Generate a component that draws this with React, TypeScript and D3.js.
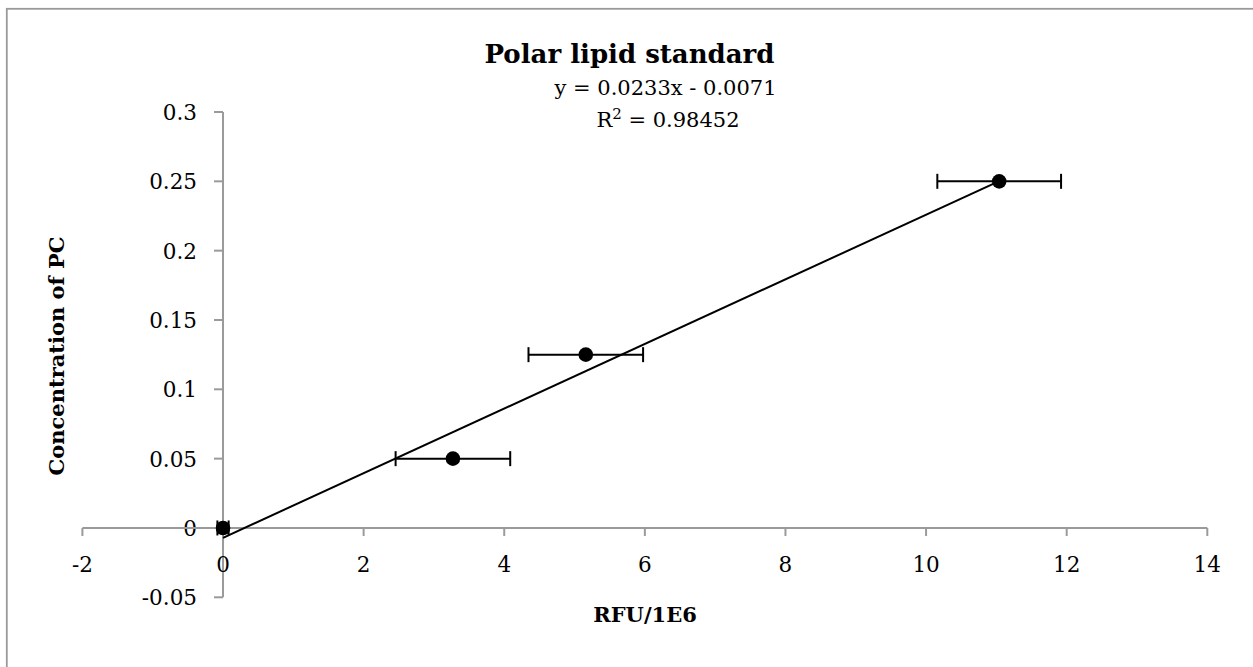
import React from "react";
import * as d3 from "d3";

const W = 1253;
const H = 667;

const xValues = [0, 3.27, 5.16, 11.04];
const yValues = [0, 0.05, 0.125, 0.25];
const xErrors = [0.08, 0.815, 0.815, 0.88];

const xTicks = [-2, 0, 2, 4, 6, 8, 10, 12, 14];
const yTicks = [-0.05, 0, 0.05, 0.1, 0.15, 0.2, 0.25, 0.3];

const slope = 0.0233;
const intercept = -0.0071;

const titleText = "Polar lipid standard";
const eqText = "y = 0.0233x - 0.0071";
const xTitle = "RFU/1E6";
const yTitle = "Concentration of PC";

const FONT = "'DejaVu Serif', serif";
const AXIS = "#9a9a9a";

export default function App() {
  const x = d3.scaleLinear().domain([-2, 14]).range([82.4, 1207.3]);
  const y = d3.scaleLinear().domain([-0.05, 0.3]).range([597.3, 112]);
  const x0 = x(0);
  const y0 = y(0);
  const fmt = (v: number) => (Math.abs(v) < 1e-9 ? "0" : String(+v.toFixed(2)));
  const xEnd = d3.max(xValues) as number;
  const trend = d3.line<number>().x((d) => x(d)).y((d) => y(slope * d + intercept));

  return (
    <svg
      width={W}
      height={H}
      style={{ position: "absolute", left: 0, top: 0, background: "#fff" }}
    >
      <rect x={0} y={0} width={W} height={H} fill="#fff" />
      <rect x={6.8} y={8.8} width={W + 50} height={H + 50} fill="none" stroke={AXIS} strokeWidth={1.8} />

      {/* Y axis */}
      <line x1={x0} x2={x0} y1={y(0.3)} y2={y(-0.05)} stroke={AXIS} strokeWidth={2} />
      {yTicks.map((t) => (
        <g key={"y" + t}>
          <line x1={x0 - 9} x2={x0} y1={y(t)} y2={y(t)} stroke={AXIS} strokeWidth={2} />
          <text x={197} y={y(t) + 8} textAnchor="end" fontFamily={FONT} fontSize={21.5} fill="#000">
            {fmt(t)}
          </text>
        </g>
      ))}

      {/* X axis */}
      <line x1={x(-2)} x2={x(14)} y1={y0} y2={y0} stroke={AXIS} strokeWidth={2} />
      {xTicks.map((t) => (
        <g key={"x" + t}>
          <line x1={x(t)} x2={x(t)} y1={y0} y2={y0 + 8} stroke={AXIS} strokeWidth={2} />
          <text x={x(t)} y={y0 + 44} textAnchor="middle" fontFamily={FONT} fontSize={21.5} fill="#000">
            {fmt(t)}
          </text>
        </g>
      ))}

      {/* trendline */}
      <path d={trend([0, xEnd]) || ""} fill="none" stroke="#000" strokeWidth={2} />

      {/* error bars */}
      {xValues.map((v, i) => (
        <g key={"e" + i} stroke="#000" strokeWidth={2}>
          <line x1={x(v - xErrors[i])} x2={x(v + xErrors[i])} y1={y(yValues[i])} y2={y(yValues[i])} />
          <line x1={x(v - xErrors[i])} x2={x(v - xErrors[i])} y1={y(yValues[i]) - 7.5} y2={y(yValues[i]) + 7.5} />
          <line x1={x(v + xErrors[i])} x2={x(v + xErrors[i])} y1={y(yValues[i]) - 7.5} y2={y(yValues[i]) + 7.5} />
        </g>
      ))}

      {/* points */}
      {xValues.map((v, i) => (
        <circle key={"p" + i} cx={x(v)} cy={y(yValues[i])} r={7.3} fill="#000" />
      ))}

      {/* titles */}
      <text x={629.5} y={63} textAnchor="middle" fontFamily={FONT} fontWeight="bold" fontSize={26} fill="#000">
        {titleText}
      </text>
      <text x={665.5} y={95} textAnchor="middle" fontFamily={FONT} fontSize={21} fill="#000">
        {eqText}
      </text>
      <text x={668} y={127} textAnchor="middle" fontFamily={FONT} fontSize={21} fill="#000">
        R<tspan fontSize={15} dy={-8}>2</tspan>
        <tspan dy={8}> = 0.98452</tspan>
      </text>
      <text x={645} y={622} textAnchor="middle" fontFamily={FONT} fontWeight="bold" fontSize={21} fill="#000">
        {xTitle}
      </text>
      <text
        transform={`translate(64, 356) rotate(-90)`}
        textAnchor="middle"
        fontFamily={FONT}
        fontWeight="bold"
        fontSize={21}
        fill="#000"
      >
        {yTitle}
      </text>
    </svg>
  );
}
